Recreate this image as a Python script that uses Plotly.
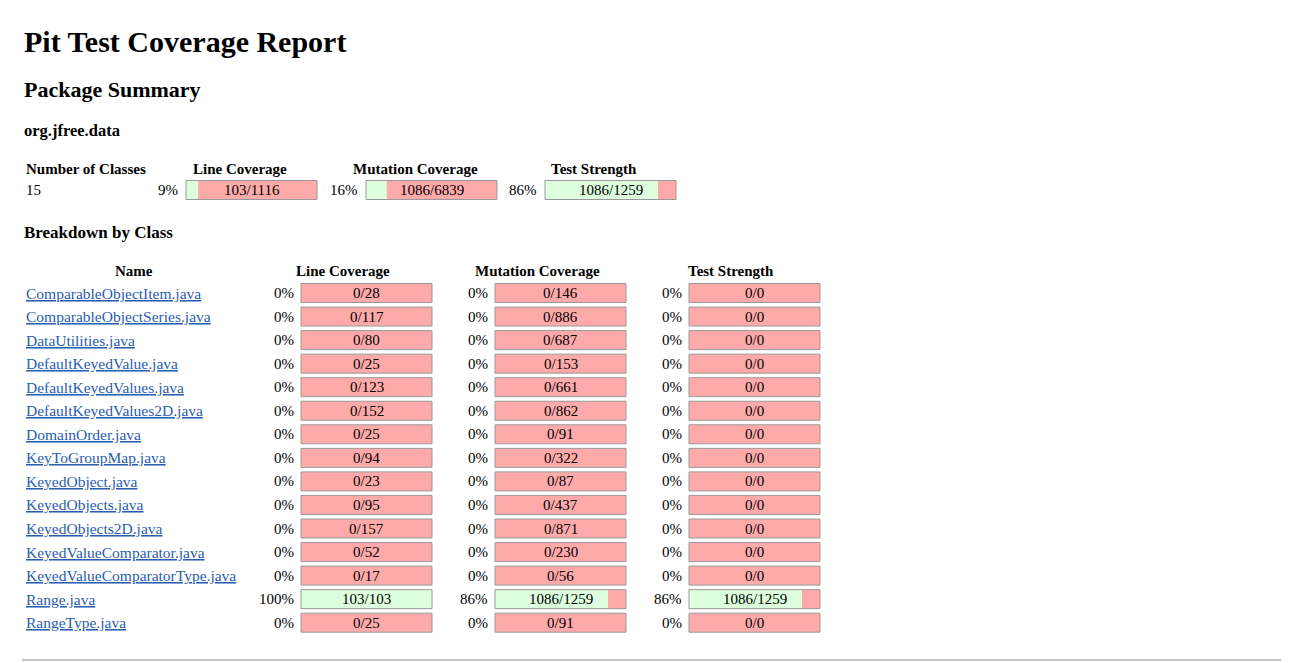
import plotly.graph_objects as go

classes = ["ComparableObjectItem.java","ComparableObjectSeries.java","DataUtilities.java","DefaultKeyedValue.java",
"DefaultKeyedValues.java","DefaultKeyedValues2D.java","DomainOrder.java","KeyToGroupMap.java","KeyedObject.java",
"KeyedObjects.java","KeyedObjects2D.java","KeyedValueComparator.java","KeyedValueComparatorType.java","Range.java","RangeType.java"]
line_cov = [0,0,0,0,0,0,0,0,0,0,0,0,0,103,0]
line_tot = [28,117,80,25,123,152,25,94,23,95,157,52,17,103,25]
mut_killed = [0,0,0,0,0,0,0,0,0,0,0,0,0,1086,0]
mut_tot = [146,886,687,153,661,862,91,322,87,437,871,230,56,1259,91]
ts_killed = mut_killed
ts_tot = [0,0,0,0,0,0,0,0,0,0,0,0,0,1259,0]
summary = [("Line Coverage",103,1116),("Mutation Coverage",1086,6839),("Test Strength",1086,1259)]
num_classes = 15

W, H = 1289, 663
OFF = 8  # page body margin
F = "Liberation Serif"
fig = go.Figure()
shapes, ann = [], []

def text(x, y, s, size=16, bold=False, anchor="left", color="black"):
    if bold: s = "<b>%s</b>" % s
    ann.append(dict(x=x, y=y, text=s, showarrow=False, xanchor=anchor, yanchor="middle",
                    font=dict(family=F, size=size, color=color)))

def bar(x0, yc, num, den, w=131, h=19):
    pct = num/den if den else 0
    y0, y1 = yc-h/2, yc+h/2
    shapes.append(dict(type="rect", x0=x0, x1=x0+w, y0=y0, y1=y1, fillcolor="#FFAAAA", line=dict(width=0)))
    if pct > 0:
        shapes.append(dict(type="rect", x0=x0, x1=x0+w*pct, y0=y0, y1=y1, fillcolor="#DDFFDD", line=dict(width=0)))
    shapes.append(dict(type="rect", x0=x0, x1=x0+w, y0=y0, y1=y1, line=dict(color="#999999", width=1)))
    text(x0+w/2, yc, "%d/%d" % (num, den), 15, anchor="center")
    return int(round(pct*100))

text(22, 41, "Pit Test Coverage Report", 30, True)
text(22, 89, "Package Summary", 22, True)
text(22, 130, "org.jfree.data", 16.5, True)

text(24, 169, "Number of Classes", 15, True)
text(24, 190, str(num_classes), 15)
sx = [186, 366, 545]
hx = [240, 415, 594]
for (name, n, d), x, c in zip(summary, sx, hx):
    text(c, 169, name, 15, True, "center")
    p = bar(x, 190, n, d)
    text(x-6, 190, "%d%%" % p, 15, anchor="right")

text(22, 232, "Breakdown by Class", 17, True)
for s, x in [("Name",134),("Line Coverage",343),("Mutation Coverage",537),("Test Strength",731)]:
    text(x, 271, s, 15, True, "center")

for i, c in enumerate(classes):
    y = 293 + i*23.55
    text(24, y, "<u>%s</u>" % c, 15.5, color="#2a5db0")
    for x, n, d in [(301, line_cov[i], line_tot[i]), (495, mut_killed[i], mut_tot[i]), (689, ts_killed[i], ts_tot[i])]:
        p = bar(x, y, n, d)
        text(x-5, y, "%d%%" % p, 15, anchor="right")

shapes.append(dict(type="line", x0=22, x1=W, y0=660, y1=660, line=dict(color="#888888", width=1)))
shapes.append(dict(type="line", x0=W-2, x1=W-2, y0=OFF, y1=H, line=dict(color="#555555", width=2)))

fig.update_layout(width=W, height=H, margin=dict(l=0, r=0, t=0, b=0),
                  plot_bgcolor="white", paper_bgcolor="white", shapes=shapes, annotations=ann,
                  xaxis=dict(range=[OFF, W+OFF], visible=False, fixedrange=True),
                  yaxis=dict(range=[H+OFF, OFF], visible=False, fixedrange=True), showlegend=False)
fig.write_html("out.html", config={"displayModeBar": False})
